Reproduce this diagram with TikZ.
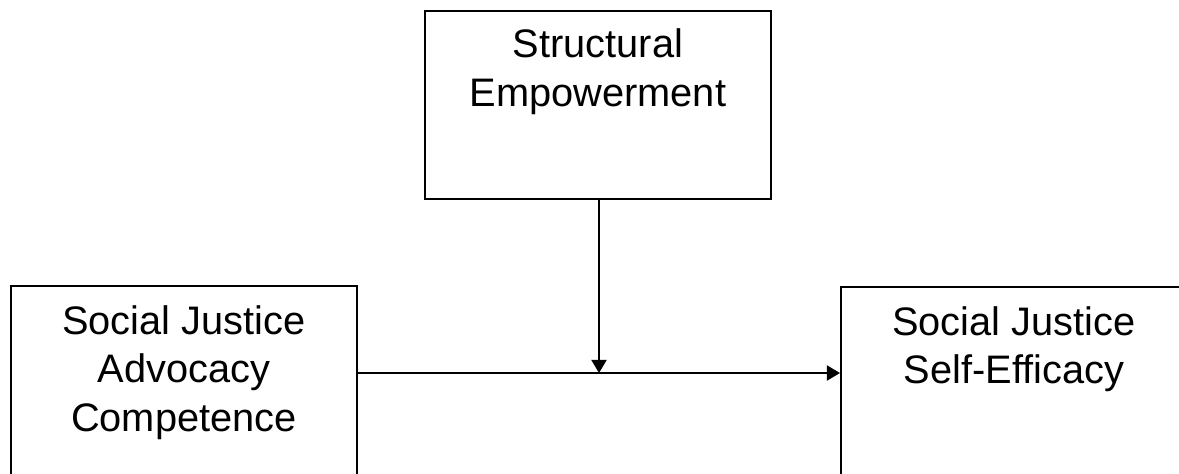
\documentclass[tikz,border=0pt]{standalone}
\usepackage{fontspec}
\setmainfont{Liberation Sans}
\usetikzlibrary{arrows.meta,positioning}
\tikzset{
  varbox/.style={draw=black,line width=1.2pt,minimum width=8.65cm,inner sep=0pt},
  vartext/.style={align=center,inner sep=0pt,font=\fontsize{28.3}{34.6}\selectfont},
  arrow/.style={-{Triangle[length=0.33cm,width=0.38cm]},draw=black,line width=1.3pt}
}
\begin{document}
\begin{tikzpicture}
  \useasboundingbox (0,0) rectangle (29.475,-11.825);
  \node[varbox,minimum height=4.7cm,anchor=north west] (sep) at (10.6,-0.25) {};
  \node[varbox,minimum height=4.9cm,anchor=north west] (sja) at (0.25,-7.125) {};
  \node[varbox,minimum height=4.9cm,anchor=north west] (sjs) at (21.0,-7.15) {};
  \node[vartext,below=0.46cm of sep.north] (septext) {Structural\\Empowerment};
  \node[vartext,below=0.5cm of sja.north] (sjatext) {Social Justice\\Advocacy\\Competence};
  \node[vartext,below=0.5cm of sjs.north] (sjstext) {Social Justice\\Self-Efficacy};
  \coordinate (mod) at (14.975,-9.325);
  \draw[arrow] (sja.east |- mod) -- (sjs.west |- mod);
  \draw[arrow] (sep.south -| mod) -- (mod);
\end{tikzpicture}
\end{document}
